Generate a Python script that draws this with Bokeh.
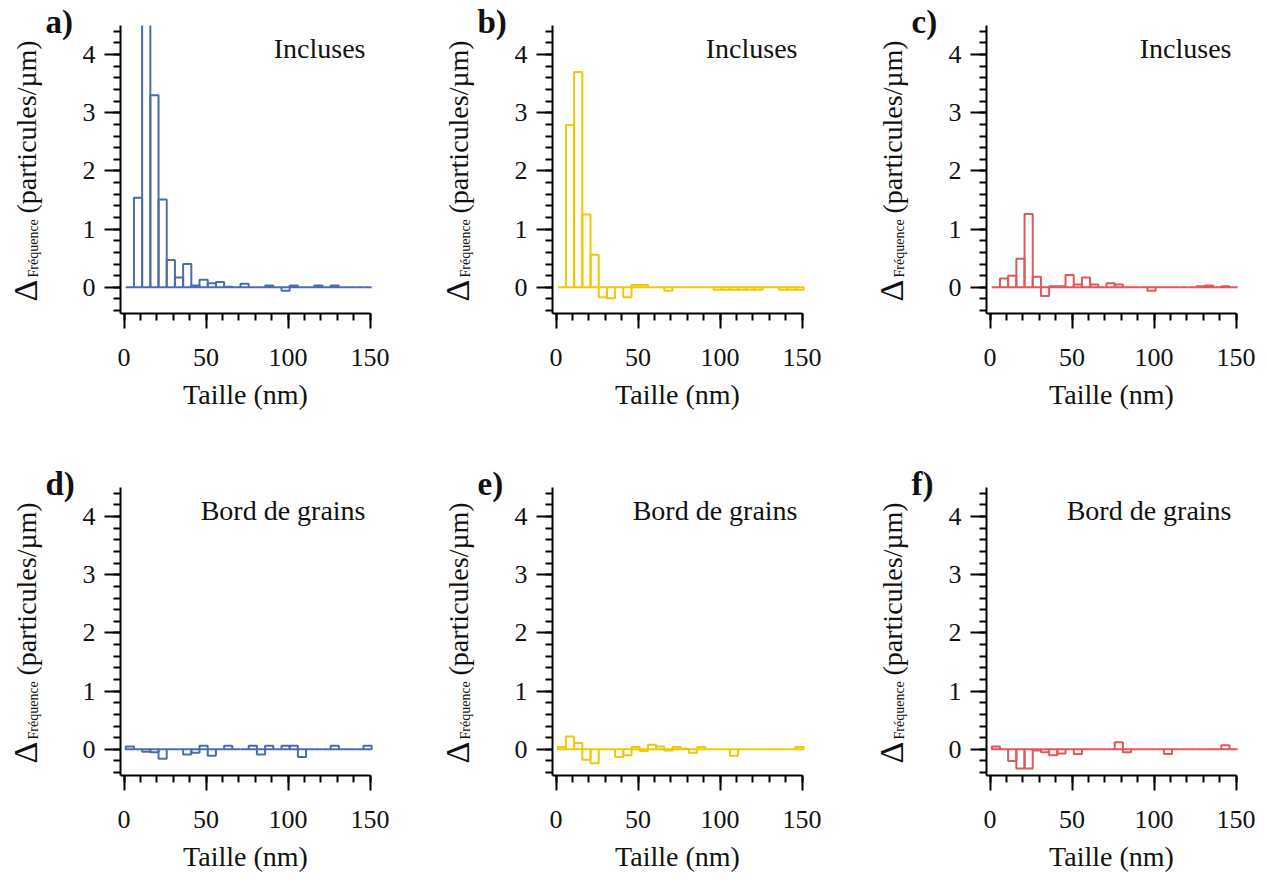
import math
from bokeh.plotting import figure
from bokeh.layouts import gridplot
from bokeh.models import Range1d, FixedTicker, Label
from bokeh.embed import file_html
from bokeh.resources import INLINE

# ---- data: 5 nm bins, left edges in nm ----
bin_left = [1 + 5 * k for k in range(30)]
bin_width = 5

# Incluses (top row)
vals_a = [0, 1.54, 5.6, 3.30, 1.51, 0.47, 0.17, 0.40, 0.03, 0.13,
          0.07, 0.09, 0.01, 0, 0.06, 0, 0, 0.03, 0, -0.06,
          0.03, 0, 0, 0.03, 0, 0.03, 0, 0, 0, 0]
vals_b = [0, 2.79, 3.70, 1.25, 0.56, -0.17, -0.19, 0, -0.17, 0.04,
          0.04, 0, 0, -0.06, 0, 0, 0, 0, 0, -0.04,
          -0.04, -0.04, -0.04, -0.04, -0.04, 0, 0, -0.04, -0.04, -0.04]
vals_c = [0, 0.15, 0.20, 0.49, 1.26, 0.18, -0.15, 0.02, 0.02, 0.21,
          0.05, 0.17, 0.05, 0, 0.07, 0.05, 0, 0, 0, -0.06,
          0, 0, 0, 0, 0, 0.02, 0.03, 0, 0.02, 0]
# Bord de grains (bottom row)
vals_d = [0.05, 0, -0.04, -0.05, -0.16, 0, 0, -0.09, -0.06, 0.06,
          -0.11, 0, 0.06, 0, 0, 0.06, -0.09, 0.06, 0, 0.06,
          0.06, -0.13, 0, 0, 0, 0.06, 0, 0, 0, 0.06]
vals_e = [0.04, 0.22, 0.11, -0.18, -0.24, 0, 0, -0.13, -0.10, 0.04,
          -0.03, 0.08, 0.05, -0.02, 0.04, 0.01, -0.06, 0.04, 0, 0,
          0, -0.11, 0, 0, 0, 0, 0, 0, 0, 0.04]
vals_f = [0.05, 0, -0.20, -0.33, -0.33, -0.02, -0.05, -0.10, -0.07, 0,
          -0.08, 0, 0, 0, 0, 0.12, -0.05, 0, 0, 0,
          0, -0.08, 0, 0, 0, 0, 0, 0, 0.07, 0]

letters = ["a)", "b)", "c)", "d)", "e)", "f)"]
titles = ["Incluses", "Incluses", "Incluses",
          "Bord de grains", "Bord de grains", "Bord de grains"]
colors = ["#4A6DAE", "#F0C808", "#E05858"]

x_ticks = [0, 50, 100, 150]
y_ticks = [0, 1, 2, 3, 4]
x_label = "Taille (nm)"

# ---- layout ----
FONT = "Liberation Serif"
INK = "#111111"
X_LO, X_HI = -2.2, 150.3       # axis extent (data)
Y_LO, Y_HI = -0.45, 4.5
FRAME_W, FRAME_H = 250, 288    # axis box in px
col_x = [0, 432, 864]          # figure origins (px)
col_w = [432, 432, 400]
row_y = [0, 462]
row_h = [462, 415]
data_left = [120, 552, 986]    # page x of y axis
data_top = [25, 487]           # page y of top of y axis


def make_panel(vals, color, letter, title, row, col):
    W, H = col_w[col], row_h[row]
    dl = data_left[col] - col_x[col]          # px from fig left to axis
    dt = data_top[row] - row_y[row]           # px from fig top to axis top
    db = H - dt - FRAME_H                     # px from fig bottom to x axis
    sx = FRAME_W / (X_HI - X_LO)
    sy = FRAME_H / (Y_HI - Y_LO)
    x0 = X_LO - dl / sx
    y0 = Y_LO - db / sy
    p = figure(width=W, height=H,
               x_range=Range1d(x0, x0 + W / sx), y_range=Range1d(y0, y0 + H / sy),
               output_backend="svg", toolbar_location=None, min_border=0)
    p.outline_line_color = None
    p.xgrid.visible = False
    p.ygrid.visible = False
    p.background_fill_color = "white"
    p.border_fill_color = "white"

    # bars (outlined), bars beyond the axis top drawn open at the top
    L = [b for b, v in zip(bin_left, vals) if v <= Y_HI]
    T = [v for v in vals if v <= Y_HI]
    p.quad(left=L, right=[b + bin_width for b in L], bottom=0, top=T,
           fill_color=None, line_color=color, line_width=2)
    xs, ys = [], []
    for b, v in zip(bin_left, vals):
        if v > Y_HI:
            xs += [[b, b], [b + bin_width, b + bin_width], [b, b + bin_width]]
            ys += [[0, Y_HI], [0, Y_HI], [0, 0]]
    if xs:
        p.multi_line(xs=xs, ys=ys, line_color=color, line_width=2)

    p.xaxis.ticker = FixedTicker(ticks=x_ticks, minor_ticks=list(range(0, 151, 10)))
    p.yaxis.ticker = FixedTicker(ticks=y_ticks,
                                 minor_ticks=[round(-0.4 + 0.2 * i, 1) for i in range(25)])
    p.xaxis.fixed_location = Y_LO
    p.xaxis.bounds = (X_LO, X_HI)
    p.yaxis.fixed_location = X_LO
    p.yaxis.bounds = (Y_LO, Y_HI)
    for ax in (p.xaxis[0], p.yaxis[0]):
        ax.axis_line_width = 2
        ax.axis_line_color = "black"
        ax.major_tick_line_width = 2
        ax.minor_tick_line_width = 2
        ax.major_tick_line_color = "black"
        ax.minor_tick_line_color = "black"
        ax.major_tick_in = 0
        ax.minor_tick_in = 0
        ax.major_label_text_font = FONT
        ax.major_label_text_font_size = "26px"
        ax.major_label_text_color = INK
    p.xaxis.major_tick_out = 15
    p.xaxis.minor_tick_out = 7
    p.yaxis.major_tick_out = 16
    p.yaxis.minor_tick_out = 7
    p.xaxis.major_label_standoff = 20
    p.yaxis.major_label_standoff = 9
    p.xaxis.axis_label = x_label
    p.xaxis.axis_label_text_font = FONT
    p.xaxis.axis_label_text_font_size = "28px"
    p.xaxis.axis_label_text_font_style = "normal"
    p.xaxis.axis_label_text_color = INK
    p.xaxis.axis_label_standoff = 10

    def lab(x, y, text, size, **kw):
        p.add_layout(Label(x=dl + x, y=db + y, x_units="screen", y_units="screen",
                           text=text, text_font=FONT, text_font_size=size,
                           text_color=INK, text_baseline="middle", **kw))

    # panel letter
    lab(-75, FRAME_H + 4, letter, "33px", text_font_style="bold")
    # panel title
    lab(FRAME_W - 5, FRAME_H - 23, title, "28px", text_align="right")
    # y label: Δ_Fréquence (particules/µm)
    ang = math.pi / 2
    lab(-95, 12, "Δ", "34px", angle=ang)
    lab(-87, 36, "Fréquence", "14px", angle=ang)
    lab(-94, 100, "(particules/µm)", "28px", angle=ang)
    return p


all_vals = [vals_a, vals_b, vals_c, vals_d, vals_e, vals_f]
panels = []
for i, v in enumerate(all_vals):
    r, c = divmod(i, 3)
    panels.append(make_panel(v, colors[c], letters[i], titles[i], r, c))

grid = gridplot([panels[0:3], panels[3:6]], toolbar_location=None)

open("out.html", "w").write(file_html(grid, INLINE))
